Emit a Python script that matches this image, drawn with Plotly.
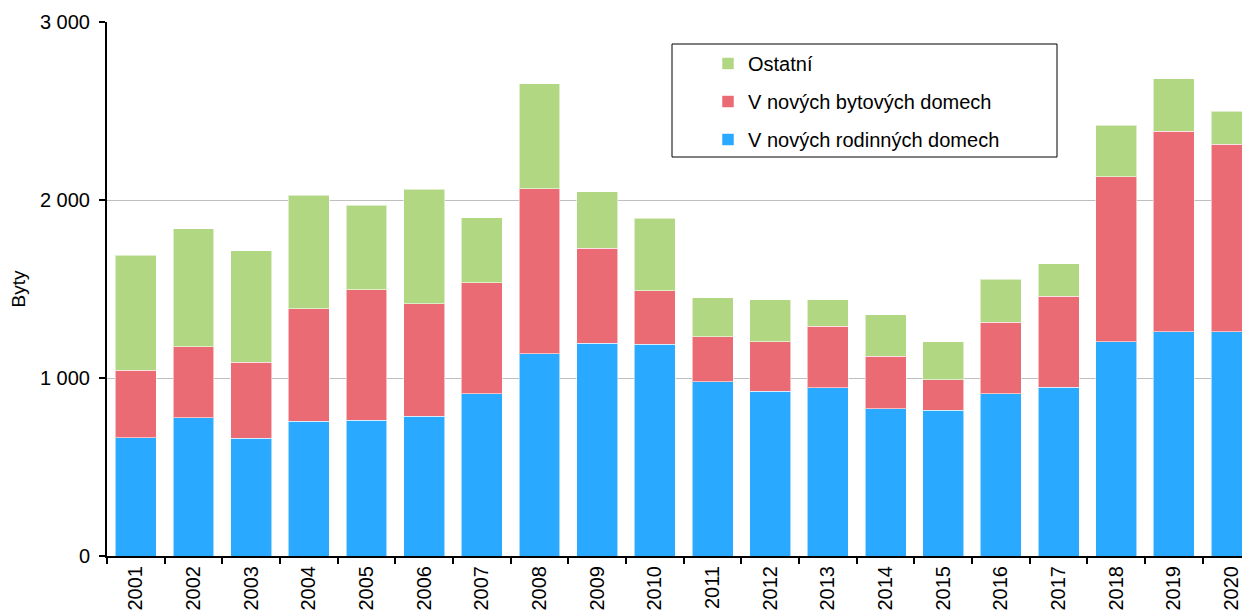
import plotly.graph_objects as go

years = [str(y) for y in range(2001, 2021)]
rodinne = [664, 777, 662, 758, 763, 784, 911, 1136, 1195, 1190, 979, 926, 945, 827, 818, 911, 948, 1203, 1259, 1259]
bytove = [380, 398, 427, 632, 734, 634, 625, 926, 534, 299, 254, 279, 346, 295, 172, 402, 511, 929, 1126, 1053]
ostatni = [647, 664, 627, 636, 473, 642, 363, 591, 316, 408, 219, 234, 150, 234, 213, 241, 182, 287, 296, 187]

names = ["V nových rodinných domech", "V nových bytových domech", "Ostatní"]
colors = ["#29A9FF", "#EA6B73", "#B2D783"]
ranks = [3, 2, 1]
series = [rodinne, bytove, ostatni]

FONT = "Arial, Liberation Sans, sans-serif"

fig = go.Figure()
for name, col, vals, rk in zip(names, colors, series, ranks):
    fig.add_trace(go.Bar(
        x=years, y=vals, name=name, legendgroup=name, legendrank=rk,
        marker=dict(color=col, line=dict(color="rgba(255,255,255,0.55)", width=1)),
    ))

# page body has an 8px margin; screen-space plot area: x 107..1250, y 22..556
OFF = 8
SX0, SX1, SY0, SY1 = 107, 1250, 22, 556
W, H = 1250 - OFF, 612 - OFF
L, T = SX0 - OFF, SY0 - OFF
B = 612 - SY1
R = 0
pw, ph = SX1 - SX0, SY1 - SY0

def px_x(sx):
    return (sx - SX0) / pw

def px_y(sy):
    return (SY1 - sy) / ph

fig.update_layout(
    width=W, height=H,
    margin=dict(l=L, r=R, t=T, b=B, pad=0),
    barmode="stack", bargap=0.29,
    plot_bgcolor="white", paper_bgcolor="white",
    separators=", ",
    font=dict(family=FONT, size=20, color="black"),
    showlegend=True,
    legend=dict(
        x=px_x(708), y=px_y(44), xanchor="left", yanchor="top",
        traceorder="grouped", tracegroupgap=9,
        bgcolor="rgba(0,0,0,0)", borderwidth=0,
        font=dict(family=FONT, size=20, color="black"),
    ),
    shapes=[dict(
        type="rect", xref="paper", yref="paper",
        x0=px_x(672), x1=px_x(1057), y0=px_y(157), y1=px_y(44),
        line=dict(color="black", width=1), fillcolor="rgba(0,0,0,0)", layer="above",
    )],
)

fig.update_xaxes(
    type="category", range=[-0.5, 19.32],
    showline=True, linecolor="black", linewidth=2,
    ticks="outside", tickson="boundaries", ticklen=6, tickcolor="black", tickwidth=2,
    tickangle=-90, tickfont=dict(family=FONT, size=20, color="black"),
    showgrid=False,
)
fig.update_yaxes(
    range=[0, 3000], dtick=1000, tick0=0,
    showline=True, linecolor="black", linewidth=2,
    ticks="outside", ticklen=6, tickcolor="black", tickwidth=2,
    showgrid=True, gridcolor="#BFBFBF", gridwidth=1,
    tickformat=",d", tickfont=dict(family=FONT, size=20, color="black"),
    ticklabelstandoff=5,
    title=dict(text="Byty", font=dict(family=FONT, size=19, color="black"), standoff=18),
    zeroline=False,
)

fig.write_html("out.html")
